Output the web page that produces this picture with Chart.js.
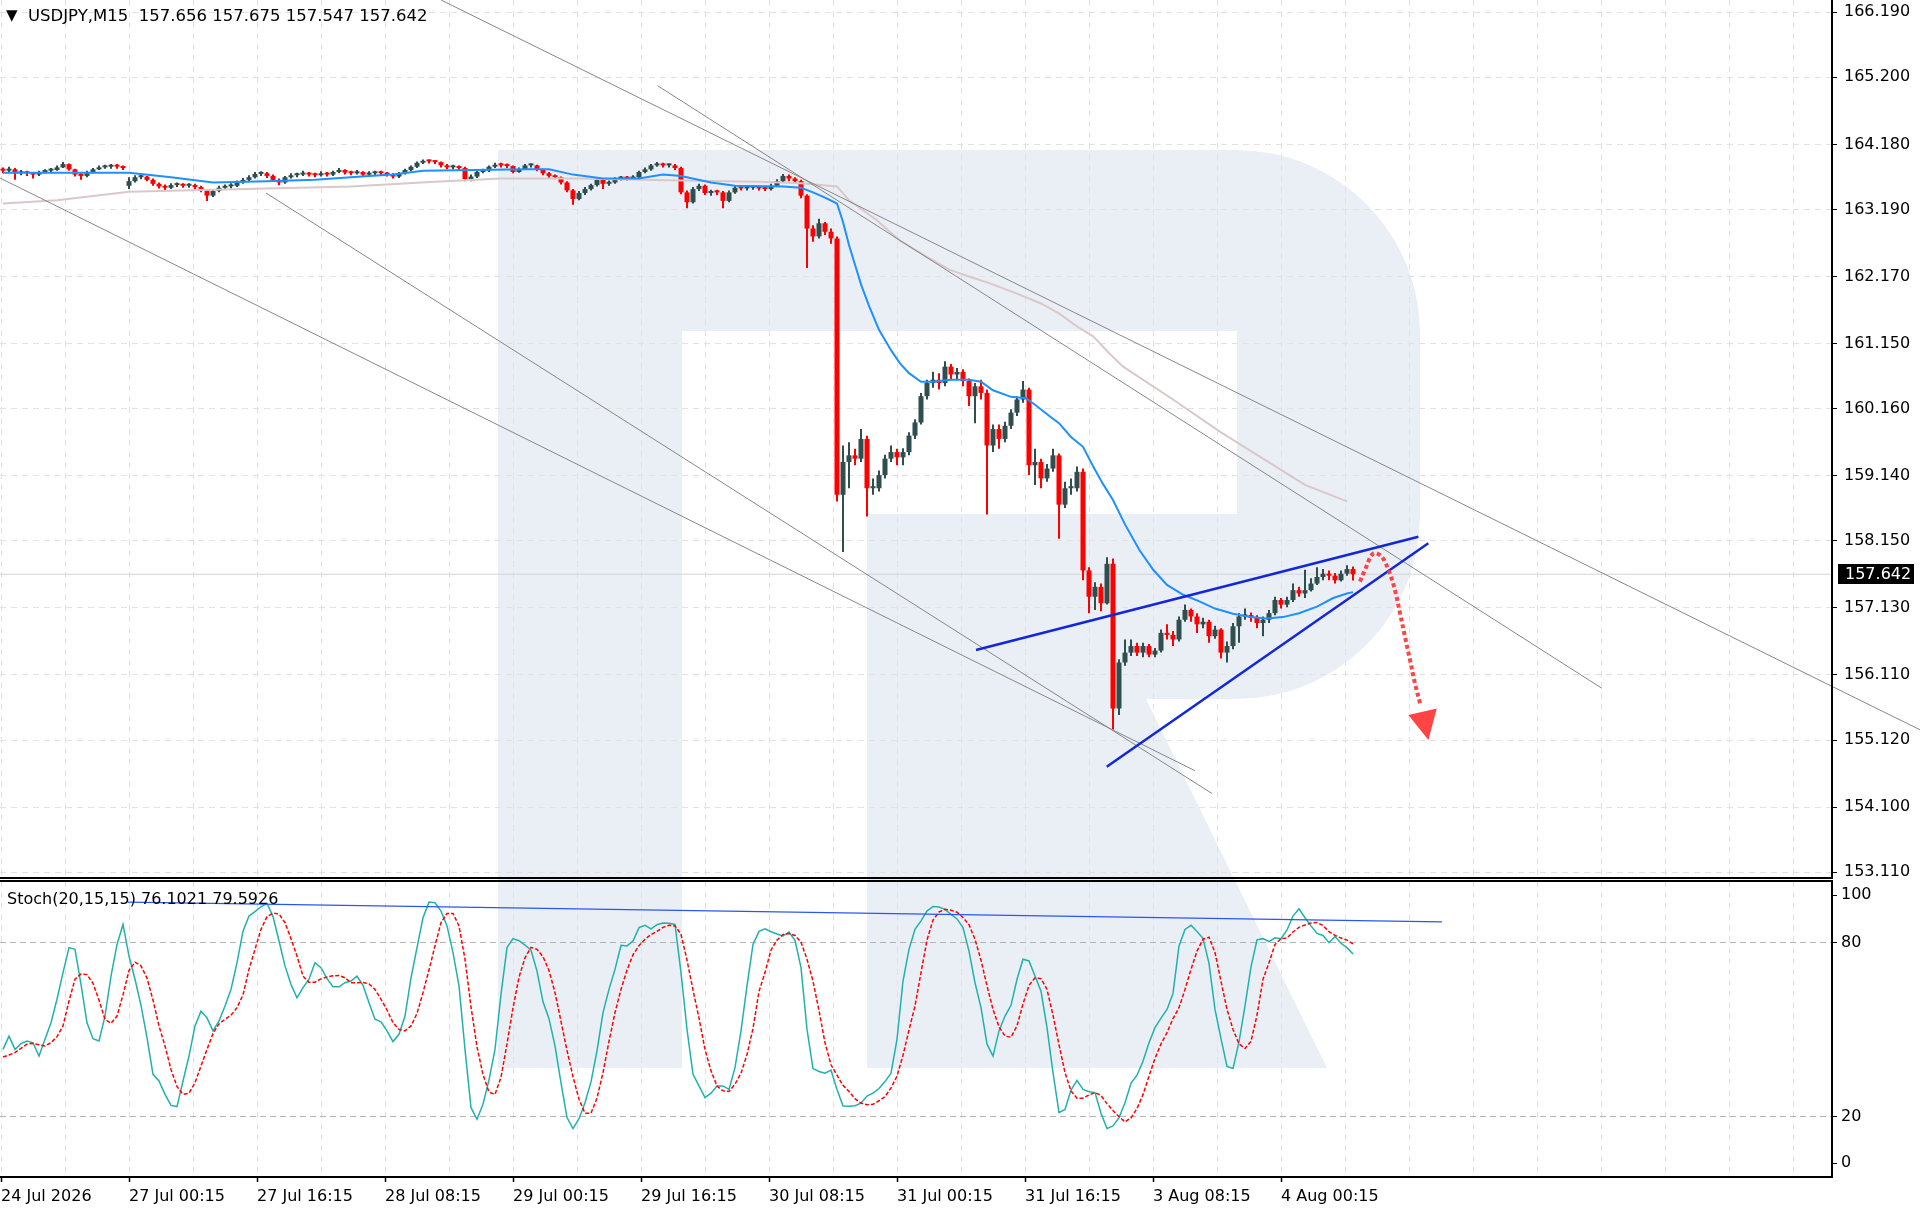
<!DOCTYPE html>
<html>
<head>
<meta charset="utf-8">
<title>USDJPY,M15</title>
<script src="https://cdn.jsdelivr.net/npm/chart.js@4.4.1/dist/chart.umd.min.js"></script>
<style>
  body { margin: 0; background: #fff; }
  #wrap { position: relative; width: 1920px; height: 1216px; overflow: hidden; font-family: 'DejaVu Sans', sans-serif; }
  canvas { position: absolute; left: 0; }
  .legend { position: absolute; font-size: 16px; line-height: 20px; color: #000; white-space: pre; }
  .legend .tri { display: inline-block; width: 22px; font-size: 15px; vertical-align: 1px; }
</style>
</head>
<body>
<div id="wrap">
  <canvas id="price" width="1920" height="879" style="top:0"></canvas>
  <canvas id="stoch" width="1920" height="337" style="top:879px"></canvas>
  <div class="legend" style="left:6px;top:5px;font-size:16.5px"><span class="tri">▼</span>USDJPY,M15  157.656 157.675 157.547 157.642</div>
  <div class="legend" style="left:7px;top:889px">Stoch(20,15,15) 76.1021 79.5926</div>
</div>
<script>
// one candle = three M15 bars
const closes = [
  163.78, 163.80, 163.74, 163.76, 163.74, 163.72, 163.76, 163.78, 163.79, 163.83,
  163.88, 163.80, 163.72, 163.70, 163.76, 163.80, 163.83, 163.84, 163.85, 163.84,
  163.82, 163.62, 163.68, 163.69, 163.64, 163.58, 163.54, 163.52, 163.56, 163.57,
  163.55, 163.56, 163.53, 163.48, 163.40, 163.47, 163.52, 163.54, 163.55, 163.60,
  163.64, 163.68, 163.73, 163.74, 163.70, 163.64, 163.60, 163.68, 163.71, 163.72,
  163.74, 163.72, 163.71, 163.74, 163.72, 163.76, 163.79, 163.75, 163.74, 163.76,
  163.72, 163.74, 163.75, 163.74, 163.72, 163.69, 163.74, 163.79, 163.84, 163.90,
  163.93, 163.92, 163.91, 163.86, 163.83, 163.84, 163.82, 163.65, 163.69, 163.76,
  163.78, 163.84, 163.87, 163.86, 163.85, 163.76, 163.80, 163.86, 163.86, 163.80,
  163.74, 163.70, 163.68, 163.60, 163.48, 163.35, 163.44, 163.50, 163.56, 163.64,
  163.58, 163.60, 163.66, 163.67, 163.66, 163.68, 163.76, 163.80, 163.86, 163.88,
  163.86, 163.86, 163.82, 163.45, 163.30, 163.50, 163.55, 163.44, 163.46, 163.45,
  163.32, 163.45, 163.52, 163.51, 163.52, 163.53, 163.51, 163.50, 163.55, 163.62,
  163.70, 163.66, 163.62, 163.40, 162.90, 162.78, 162.98, 162.85, 162.75, 158.85,
  159.35, 159.45, 159.40, 159.70, 158.95, 158.95, 159.15, 159.40, 159.50, 159.42,
  159.50, 159.75, 159.95, 160.35, 160.55, 160.60, 160.55, 160.80, 160.68, 160.72,
  160.58, 160.35, 160.50, 160.40, 159.60, 159.85, 159.70, 159.90, 160.10, 160.30,
  160.45, 159.30, 159.35, 159.10, 159.25, 159.45, 158.70, 158.95, 158.95, 159.20,
  157.70, 157.30, 157.45, 157.20, 157.80, 155.60, 156.30, 156.45, 156.55, 156.45,
  156.55, 156.42, 156.48, 156.75, 156.72, 156.65, 156.95, 157.10, 157.00, 156.88,
  156.92, 156.70, 156.80, 156.45, 156.55, 156.85, 157.00, 157.02, 156.98, 156.90,
  156.95, 157.05, 157.25, 157.18, 157.25, 157.40, 157.35, 157.40, 157.50, 157.60,
  157.65, 157.62, 157.55, 157.65, 157.72, 157.642
]

const highs = [
  163.83, 163.84, 163.82, 163.79, 163.78, 163.76, 163.78, 163.80, 163.82, 163.86,
  163.91, 163.89, 163.81, 163.74, 163.78, 163.82, 163.86, 163.87, 163.88, 163.88,
  163.86, 163.68, 163.71, 163.72, 163.70, 163.66, 163.60, 163.57, 163.59, 163.60,
  163.59, 163.59, 163.58, 163.55, 163.50, 163.50, 163.55, 163.57, 163.59, 163.63,
  163.67, 163.71, 163.76, 163.77, 163.76, 163.72, 163.66, 163.70, 163.74, 163.75,
  163.78, 163.76, 163.75, 163.77, 163.76, 163.78, 163.82, 163.80, 163.78, 163.79,
  163.77, 163.77, 163.78, 163.78, 163.76, 163.74, 163.76, 163.81, 163.86, 163.92,
  163.95, 163.95, 163.94, 163.92, 163.88, 163.87, 163.86, 163.84, 163.72, 163.78,
  163.81, 163.86, 163.90, 163.90, 163.89, 163.86, 163.83, 163.88, 163.89, 163.87,
  163.81, 163.76, 163.72, 163.69, 163.62, 163.50, 163.47, 163.53, 163.58, 163.66,
  163.66, 163.63, 163.68, 163.70, 163.70, 163.71, 163.78, 163.83, 163.88, 163.91,
  163.90, 163.89, 163.88, 163.84, 163.48, 163.53, 163.58, 163.57, 163.49, 163.49,
  163.47, 163.48, 163.55, 163.55, 163.55, 163.56, 163.55, 163.54, 163.58, 163.65,
  163.73, 163.72, 163.68, 163.64, 163.42, 162.95, 163.05, 163.00, 162.90, 162.78,
  159.60, 159.65, 159.55, 159.85, 159.75, 159.10, 159.22, 159.46, 159.60, 159.55,
  159.56, 159.80, 160.00, 160.40, 160.60, 160.72, 160.70, 160.88, 160.84, 160.78,
  160.76, 160.62, 160.55, 160.60, 160.45, 159.92, 159.92, 159.96, 160.15, 160.35,
  160.58, 160.48, 159.55, 159.40, 159.32, 159.55, 159.48, 159.05, 159.10, 159.28,
  159.25, 157.75, 157.52, 157.50, 157.90, 157.88, 156.35, 156.65, 156.65, 156.60,
  156.60, 156.58, 156.52, 156.80, 156.88, 156.78, 157.00, 157.18, 157.12, 157.05,
  156.98, 156.95, 156.86, 156.82, 156.62, 156.90, 157.05, 157.12, 157.06, 157.02,
  157.00, 157.10, 157.30, 157.28, 157.30, 157.50, 157.45, 157.71, 157.58, 157.75,
  157.72, 157.70, 157.66, 157.70, 157.78, 157.76
]

const lows = [
  163.74, 163.75, 163.64, 163.71, 163.70, 163.66, 163.70, 163.74, 163.76, 163.78,
  163.82, 163.78, 163.69, 163.64, 163.68, 163.74, 163.79, 163.81, 163.81, 163.81,
  163.79, 163.50, 163.60, 163.65, 163.62, 163.55, 163.51, 163.47, 163.50, 163.53,
  163.52, 163.52, 163.50, 163.45, 163.32, 163.38, 163.45, 163.49, 163.51, 163.53,
  163.58, 163.62, 163.66, 163.70, 163.67, 163.61, 163.56, 163.58, 163.66, 163.68,
  163.70, 163.69, 163.68, 163.69, 163.69, 163.70, 163.74, 163.72, 163.71, 163.72,
  163.69, 163.70, 163.71, 163.71, 163.69, 163.66, 163.67, 163.72, 163.77, 163.82,
  163.88, 163.89, 163.88, 163.83, 163.80, 163.80, 163.79, 163.62, 163.62, 163.67,
  163.74, 163.76, 163.82, 163.83, 163.82, 163.74, 163.75, 163.79, 163.83, 163.77,
  163.71, 163.67, 163.65, 163.57, 163.45, 163.26, 163.33, 163.41, 163.48, 163.54,
  163.50, 163.55, 163.58, 163.63, 163.63, 163.64, 163.66, 163.74, 163.78, 163.84,
  163.83, 163.83, 163.79, 163.42, 163.21, 163.28, 163.47, 163.41, 163.40, 163.41,
  163.21, 163.30, 163.43, 163.48, 163.48, 163.49, 163.48, 163.47, 163.48, 163.53,
  163.60, 163.62, 163.58, 163.36, 162.30, 162.70, 162.75, 162.80, 162.67, 158.75,
  157.98, 158.95, 159.30, 159.35, 158.52, 158.85, 158.90, 159.10, 159.35, 159.30,
  159.30, 159.45, 159.70, 159.92, 160.30, 160.48, 160.45, 160.50, 160.60, 160.60,
  160.50, 160.20, 159.94, 160.30, 158.55, 159.50, 159.55, 159.65, 159.85, 160.05,
  160.25, 159.15, 159.00, 158.95, 159.05, 159.20, 158.18, 158.65, 158.85, 158.90,
  157.55, 157.05, 157.10, 157.08, 157.18, 155.28, 155.50, 156.25, 156.40, 156.40,
  156.38, 156.38, 156.38, 156.45, 156.65, 156.55, 156.62, 156.92, 156.92, 156.75,
  156.82, 156.60, 156.66, 156.36, 156.30, 156.50, 156.60, 156.95, 156.92, 156.82,
  156.70, 156.90, 157.02, 157.12, 157.14, 157.22, 157.30, 157.28, 157.38, 157.48,
  157.55, 157.55, 157.50, 157.53, 157.62, 157.547
]

// opens follow the previous close, except the first candle and the Monday gap
const gapOpens = { 0: 163.80, 21: 163.55 }
const lastPrice = 157.642

// Stoch(20,15,15) per candle
const stochK = [
  43.2, 47.8, 43.2, 45.2, 46.1, 45.5, 40.9, 46.7, 52.4, 60.5,
  69.7, 78.3, 77.7, 65.6, 52.4, 46.9, 46.1, 54.7, 68.5, 79.4,
  86.3, 75.4, 67.4, 58.4, 47.3, 34.6, 32.3, 27.7, 23.9, 23.5,
  32.3, 40.9, 51.3, 56.4, 54.1, 49.6, 53.0, 58.2, 63.9, 73.1,
  84.0, 89.2, 90.7, 92.4, 93.6, 89.0, 80.6, 72.0, 65.6, 61.0,
  64.5, 67.4, 73.1, 71.4, 67.6, 64.8, 64.8, 66.2, 66.8, 68.5,
  65.3, 59.3, 53.6, 52.7, 49.6, 45.9, 48.4, 54.7, 67.9, 78.3,
  88.6, 94.0, 93.8, 90.9, 85.8, 76.6, 65.1, 43.2, 23.1, 19.1,
  24.3, 32.7, 43.2, 62.2, 78.3, 81.4, 80.7, 79.2, 77.4, 70.2,
  59.6, 53.8, 44.4, 31.7, 19.7, 15.9, 19.3, 24.8, 32.0, 42.7,
  55.9, 63.9, 70.8, 79.1, 78.9, 80.6, 85.2, 86.0, 84.8, 86.2,
  86.8, 86.7, 86.3, 69.7, 50.1, 34.6, 30.6, 26.6, 28.1, 30.6,
  30.6, 29.4, 36.9, 49.6, 65.1, 79.4, 83.9, 84.8, 83.8, 83.0,
  82.3, 83.7, 80.8, 71.4, 50.1, 36.6, 35.6, 35.0, 36.1, 29.4,
  23.7, 23.6, 23.8, 24.7, 27.1, 28.1, 29.7, 32.1, 35.0, 46.7,
  66.8, 77.7, 84.6, 87.5, 90.9, 92.5, 92.3, 91.5, 89.8, 88.2,
  85.2, 77.1, 66.2, 57.6, 45.0, 40.9, 49.6, 54.7, 58.4, 67.4,
  74.3, 73.7, 68.5, 63.3, 50.7, 35.2, 21.4, 22.5, 29.2, 32.5,
  29.4, 28.6, 28.3, 21.2, 15.9, 16.8, 19.7, 24.8, 31.5, 34.3,
  39.1, 45.5, 50.7, 54.0, 57.0, 62.5, 78.9, 84.6, 86.0, 83.9,
  81.5, 72.9, 57.0, 46.9, 37.3, 36.6, 45.8, 58.2, 71.7, 81.0,
  81.4, 80.4, 81.7, 81.4, 84.4, 89.2, 91.7, 88.6, 85.8, 83.2,
  82.5, 80.0, 82.1, 79.8, 78.3, 76.1
]

const stochD = [
  40.6, 41.3, 42.1, 43.6, 45.0, 45.3, 44.8, 44.4, 45.5, 47.6,
  51.3, 59.9, 67.4, 69.2, 69.0, 66.0, 60.2, 53.6, 52.2, 54.7,
  62.0, 70.4, 73.3, 72.0, 67.8, 60.2, 51.3, 44.4, 36.3, 30.4,
  27.7, 28.1, 31.7, 37.5, 43.2, 48.7, 52.0, 53.6, 55.0, 57.6,
  62.0, 70.8, 77.7, 84.6, 89.0, 90.2, 89.9, 86.9, 81.4, 75.4,
  68.5, 66.3, 66.4, 67.5, 68.2, 68.6, 68.7, 67.9, 66.2, 66.2,
  66.3, 65.8, 63.9, 60.5, 56.8, 52.4, 50.1, 49.6, 51.3, 55.6,
  62.8, 70.6, 78.9, 86.9, 90.1, 90.1, 85.8, 74.3, 57.9, 44.1,
  34.5, 28.5, 27.7, 33.6, 45.1, 57.5, 68.1, 74.8, 78.4, 77.7,
  75.2, 70.4, 62.8, 52.9, 42.8, 33.8, 26.0, 21.2, 21.2, 26.4,
  35.2, 46.0, 55.9, 63.9, 70.6, 75.8, 79.0, 81.2, 82.8, 83.9,
  85.3, 86.0, 85.8, 82.9, 74.0, 63.7, 54.0, 43.2, 35.8, 30.6,
  28.9, 28.7, 31.2, 35.0, 41.4, 50.4, 63.2, 69.7, 77.5, 80.9,
  82.8, 83.2, 82.5, 80.2, 74.3, 66.7, 56.6, 45.5, 37.9, 34.3,
  30.8, 28.7, 26.2, 24.7, 24.1, 24.3, 25.5, 26.9, 29.9, 34.0,
  41.2, 49.9, 58.2, 69.7, 80.9, 87.8, 90.6, 91.5, 91.2, 90.5,
  88.7, 86.2, 81.2, 74.0, 65.1, 57.0, 51.0, 47.8, 47.4, 51.3,
  58.9, 65.3, 67.9, 67.6, 63.9, 55.0, 44.8, 35.2, 28.9, 26.4,
  26.4, 27.5, 28.3, 27.3, 24.5, 22.1, 20.0, 18.2, 19.6, 22.8,
  27.6, 34.0, 40.1, 45.1, 49.0, 53.8, 57.6, 63.9, 70.8, 77.1,
  81.2, 81.9, 76.6, 66.7, 57.0, 50.1, 45.1, 43.5, 46.0, 55.0,
  67.4, 73.1, 79.4, 81.4, 81.6, 83.7, 85.3, 86.1, 86.8, 87.0,
  85.9, 83.8, 82.5, 81.6, 80.9, 79.6
]

// moving averages as [candle, price]
const maBlue = [
  [0, 163.75], [9, 163.75], [21, 163.75], [28, 163.68], [35, 163.60], [44, 163.62], [52, 163.64],
  [61, 163.70], [65, 163.72], [70, 163.78], [87, 163.80], [91, 163.80], [95, 163.72], [100, 163.66],
  [106, 163.66], [110, 163.72], [113, 163.70], [118, 163.60], [122, 163.55], [130, 163.54], [133, 163.52],
  [135, 163.45], [137, 163.37], [139, 163.28], [140, 163.00], [141, 162.65], [142, 162.35], [143, 162.05],
  [144.4, 161.71], [146, 161.36], [148, 161.05], [149.5, 160.85], [151, 160.70], [153, 160.57], [155, 160.57],
  [158, 160.60], [161, 160.60], [163, 160.57], [165, 160.44], [168, 160.34], [170.5, 160.32], [172, 160.22],
  [174.5, 160.04], [176, 159.94], [178, 159.73], [180, 159.58], [181.7, 159.28], [183.3, 159.02], [185, 158.77],
  [187, 158.40], [189.4, 158.01], [191.7, 157.71], [194, 157.48], [196.7, 157.33], [199.4, 157.23], [202, 157.12],
  [205, 157.04], [208, 156.99], [210.6, 156.97], [213.3, 156.99], [216, 157.05], [219, 157.15], [221.7, 157.28],
  [224, 157.35], [225, 157.37]
]

const maRose = [
  [0, 163.28], [9, 163.33], [21, 163.46], [35, 163.49], [44, 163.51], [58, 163.54], [72, 163.61],
  [83, 163.66], [96, 163.66], [113, 163.63], [126, 163.61], [133, 163.59], [139, 163.54], [141, 163.33],
  [145.6, 163.03], [149.4, 162.72], [154, 162.47], [157.8, 162.27], [161, 162.17], [164.4, 162.07],
  [169, 161.91], [173, 161.76], [176, 161.61], [179, 161.41], [181.7, 161.26], [184.4, 161.00],
  [186.7, 160.80], [195, 160.30], [203, 159.80], [210, 159.40], [217, 159.00], [224, 158.75]
]

const priceTicks = [166.19, 165.20, 164.18, 163.19, 162.17, 161.15, 160.16, 159.14, 158.15, 157.13, 156.11, 155.12, 154.10, 153.11]
const stochTicks = [100, 80, 20, 0]
const stochLevels = [80, 20]
const timeLabels = ['24 Jul 2026', '27 Jul 00:15', '27 Jul 16:15', '28 Jul 08:15', '29 Jul 00:15', '29 Jul 16:15',
  '30 Jul 08:15', '31 Jul 00:15', '31 Jul 16:15', '3 Aug 08:15', '4 Aug 00:15']

// drawn objects, end points as [M15 bar, price]
const grayLines = [
  [[220, 166.376], [959.5, 155.276]],
  [[328.3, 165.072], [800.35, 155.909]],
  [[-0.5, 163.668], [597, 154.654]],
  [[132.5, 163.44], [605.5, 154.307]]
]
const wedgeLines = [
  [[487.5, 156.49], [708.7, 158.213]],
  [[552.85, 154.715], [713.65, 158.112]]
]
const stochLine = [[63.5, 94.0], [720.5, 87.2]]
const arrowPath = [[679.5, 157.53], [682, 157.71], [686.2, 157.96], [690.3, 157.91], [693.7, 157.71],
  [697, 157.40], [699.5, 157.05], [702, 156.69], [704.5, 156.34], [707, 155.98], [709.5, 155.68]]
const arrowHead = [[703.7, 155.50], [717.9, 155.60], [713.7, 155.12]]

Chart.defaults.font.family = "'DejaVu Sans', sans-serif"
Chart.defaults.font.size = 16
Chart.defaults.color = '#000'

const BULL = '#2f4f4f'
const BEAR = '#ff0000'
const ARROW = 'rgba(255,52,52,0.92)'
const GRID = '#e2e2e2'
const GRID_DASH = [6, 5]

const candleBar = j => j * 3 + 1
const opens = closes.map((c, j) => (j in gapOpens ? gapOpens[j] : closes[j - 1]))
const candleColors = closes.map((c, j) => (c >= opens[j] ? BULL : BEAR))

function seg (pts, style) {
  return Object.assign({
    type: 'line',
    data: pts.map(([x, y]) => ({ x, y })),
    pointRadius: 0,
    borderWidth: 1,
    fill: false,
    tension: 0
  }, style)
}

function timeAxis (showLabels) {
  return {
    type: 'linear',
    min: -0.5,
    max: 915.5,
    offset: false,
    afterBuildTicks: s => {
      s.ticks = []
      for (let b = 0; b <= 896; b += 32) s.ticks.push({ value: b })
    },
    afterFit: s => {
      s.height = showLabels ? 40 : 0
      s.paddingLeft = 0
      s.paddingRight = 0
    },
    grid: {
      color: GRID,
      offset: false,
      drawTicks: showLabels,
      tickLength: 6,
      tickWidth: 1.5,
      tickBorderDash: [],
      tickColor: c => (c.tick && c.tick.value % 64 === 0 && c.tick.value / 64 < timeLabels.length) ? '#000' : 'rgba(0,0,0,0)',
      borderDash: GRID_DASH
    },
    border: { display: false, dash: GRID_DASH },
    ticks: {
      display: showLabels,
      autoSkip: false,
      maxRotation: 0,
      minRotation: 0,
      align: 'start',
      padding: 5,
      callback: v => (v % 64 === 0 ? (timeLabels[v / 64] || '') : '')
    }
  }
}

// watermark behind both panels
const logoPlugin = {
  id: 'logo',
  beforeDraw (chart, args, opts) {
    const ctx = chart.ctx
    ctx.save()
    ctx.translate(0, -opts.offsetY)
    ctx.fillStyle = '#eaeff6'
    ctx.fillRect(498, 150, 184, 918)
    ctx.beginPath()
    ctx.moveTo(682, 150)
    ctx.arcTo(1420, 150, 1420, 699, 184)
    ctx.arcTo(1420, 699, 682, 699, 184)
    ctx.lineTo(867, 699)
    ctx.lineTo(867, 514)
    ctx.lineTo(1237, 514)
    ctx.lineTo(1237, 331)
    ctx.lineTo(682, 331)
    ctx.closePath()
    ctx.fill()
    ctx.beginPath()
    ctx.moveTo(867, 699)
    ctx.lineTo(1146, 699)
    ctx.lineTo(1327, 1068)
    ctx.lineTo(867, 1068)
    ctx.closePath()
    ctx.fill()
    ctx.restore()
  }
}

// black panel frame
const framePlugin = {
  id: 'frame',
  afterDraw (chart, args, opts) {
    const { ctx, chartArea: a } = chart
    ctx.save()
    ctx.strokeStyle = '#000'
    ctx.lineWidth = 2
    ctx.beginPath()
    if (opts.top) {
      ctx.moveTo(0, a.top)
      ctx.lineTo(a.right + 1, a.top)
    }
    ctx.moveTo(0, a.bottom + 1)
    ctx.lineTo(a.right + 1, a.bottom + 1)
    ctx.moveTo(a.right, opts.top ? a.top - 1 : 0)
    ctx.lineTo(a.right, a.bottom + 2)
    ctx.stroke()
    ctx.restore()
  }
}

const priceTagPlugin = {
  id: 'priceTag',
  afterDraw (chart) {
    const { ctx, chartArea: a } = chart
    const y = Math.round(chart.scales.y.getPixelForValue(lastPrice))
    ctx.save()
    ctx.fillStyle = '#000'
    ctx.fillRect(a.right + 6, y - 10, 76, 20)
    ctx.fillStyle = '#fff'
    ctx.font = "16px 'DejaVu Sans'"
    ctx.textBaseline = 'middle'
    ctx.fillText(lastPrice.toFixed(3), a.right + 13, y + 1)
    ctx.restore()
  }
}

const arrowHeadPlugin = {
  id: 'arrowHead',
  afterDatasetsDraw (chart) {
    const { ctx, scales: { x, y } } = chart
    ctx.save()
    ctx.fillStyle = ARROW
    ctx.beginPath()
    arrowHead.forEach(([b, p], i) => {
      const px = x.getPixelForValue(b)
      const py = y.getPixelForValue(p)
      if (i) ctx.lineTo(px, py)
      else ctx.moveTo(px, py)
    })
    ctx.closePath()
    ctx.fill()
    ctx.restore()
  }
}

// Price panel
new Chart(document.getElementById('price'), {
  type: 'bar',
  data: {
    datasets: [
      seg(arrowPath, { borderColor: ARROW, borderWidth: 4, borderDash: [4, 3], tension: 0.35, order: 0 }),
      ...wedgeLines.map(l => seg(l, { borderColor: '#1227d9', borderWidth: 2.5, order: 1 })),
      ...grayLines.map(l => seg(l, { borderColor: '#878787', borderWidth: 1, order: 1, clip: false })),
      seg(maBlue.map(([j, p]) => [candleBar(j), p]), { borderColor: '#1e90ff', borderWidth: 2, order: 2 }),
      seg(maRose.map(([j, p]) => [candleBar(j), p]), { borderColor: '#dac8c8', borderWidth: 2, order: 3 }),
      {
        type: 'bar',
        data: closes.map((c, j) => ({ x: candleBar(j), y: [opens[j], c] })),
        backgroundColor: candleColors,
        barThickness: 5,
        minBarLength: 2,
        grouped: false,
        inflateAmount: 0,
        order: 4
      },
      {
        type: 'bar',
        data: closes.map((c, j) => ({ x: candleBar(j), y: [lows[j], highs[j]] })),
        backgroundColor: candleColors,
        barThickness: 2,
        grouped: false,
        inflateAmount: 0,
        order: 5
      },
      seg([[-0.5, lastPrice], [915.5, lastPrice]], { borderColor: '#d4d4d4', order: 6 })
    ]
  },
  options: {
    responsive: false,
    animation: false,
    devicePixelRatio: 1,
    layout: { padding: { top: 0, bottom: 2, left: 0, right: 0 } },
    plugins: {
      legend: { display: false },
      tooltip: { enabled: false },
      logo: { offsetY: 0 },
      frame: { top: false }
    },
    scales: {
      x: timeAxis(false),
      y: {
        position: 'right',
        min: 153.0374,
        max: 166.3756,
        beginAtZero: false,
        afterBuildTicks: s => { s.ticks = priceTicks.map(v => ({ value: v })) },
        afterFit: s => {
          s.width = 88
          s.paddingTop = 0
          s.paddingBottom = 0
        },
        grid: { color: GRID, tickColor: '#000', tickLength: 5, tickWidth: 1, tickBorderDash: [], borderDash: GRID_DASH },
        border: { display: false, dash: GRID_DASH },
        ticks: { autoSkip: false, padding: 7, callback: v => v.toFixed(3) }
      }
    }
  },
  plugins: [logoPlugin, framePlugin, priceTagPlugin, arrowHeadPlugin]
})

// Stochastic panel
new Chart(document.getElementById('stoch'), {
  type: 'line',
  data: {
    datasets: [
      seg(stochLine, { borderColor: '#2a56f0', borderWidth: 1.2, order: 0 }),
      seg(stochD.map((v, j) => [candleBar(j), v]), { borderColor: '#ff0000', borderWidth: 1.5, borderDash: [4, 2], order: 1 }),
      seg(stochK.map((v, j) => [candleBar(j), v]), { borderColor: '#20b2aa', borderWidth: 1.5, order: 2 })
    ]
  },
  options: {
    responsive: false,
    animation: false,
    devicePixelRatio: 1,
    layout: { padding: { top: 2, bottom: 0, left: 0, right: 0 } },
    plugins: {
      legend: { display: false },
      tooltip: { enabled: false },
      logo: { offsetY: 879 },
      frame: { top: true }
    },
    scales: {
      x: timeAxis(true),
      y: {
        position: 'right',
        min: -0.45,
        max: 101.28,
        afterBuildTicks: s => {
          // MT4 keeps the 100 and 0 labels inside the panel
          s.ticks = stochTicks.map(v => ({ value: v === 100 ? 96.4 : v === 0 ? 4 : v }))
        },
        afterFit: s => {
          s.width = 88
          s.paddingTop = 0
          s.paddingBottom = 0
        },
        grid: {
          color: c => (c.tick && stochLevels.includes(c.tick.value)) ? '#b4b4b4' : 'rgba(0,0,0,0)',
          tickColor: '#000',
          tickLength: 5,
          tickWidth: 1,
          tickBorderDash: [],
          borderDash: [6, 4]
        },
        border: { display: false, dash: [6, 4] },
        ticks: { autoSkip: false, padding: 4, callback: (v, i) => String(stochTicks[i]) }
      }
    }
  },
  plugins: [logoPlugin, framePlugin]
})
</script>
</body>
</html>
